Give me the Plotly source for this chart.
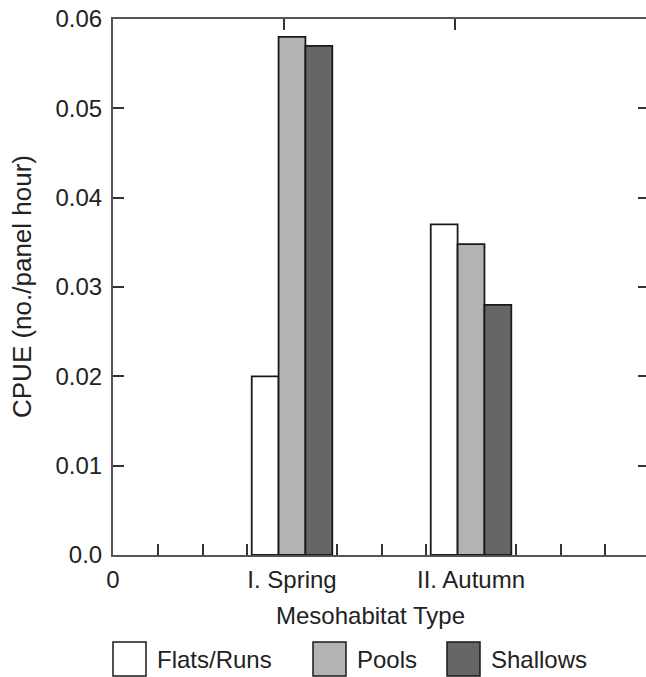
import plotly.graph_objects as go

# ---- data ----
seasons = ["I. Spring", "II. Autumn"]
season_pos = [4, 8]
series_names = ["Flats/Runs", "Pools", "Shallows"]
flats_runs = [0.020, 0.037]
pools = [0.058, 0.0348]
shallows = [0.057, 0.028]
series_values = [flats_runs, pools, shallows]
series_colors = ["#ffffff", "#b3b3b3", "#666666"]
x_tickvals = [0, 4, 8]
x_ticktext = ["0", "I. Spring", "II. Autumn"]
y_tickvals = [0, 0.01, 0.02, 0.03, 0.04, 0.05, 0.06]
y_ticktext = ["0.0", "0.01", "0.02", "0.03", "0.04", "0.05", "0.06"]
top_tickvals = [3.81, 7.64]

W, H = 646, 677
ML, MR, MT, MB = 113, 0, 19, 122
PW = W - ML - MR
PH = H - MT - MB
FONT = "Liberation Sans, Arial, sans-serif"
AXC = "#555555"
TKC = "#333333"

fig = go.Figure()
for name, vals, col in zip(series_names, series_values, series_colors):
    fig.add_trace(go.Bar(
        x=season_pos, y=vals, name=name,
        marker=dict(color=col, line=dict(color="#1a1a1a", width=1.8)),
        showlegend=False,
    ))

# dummy trace to anchor the secondary axes
fig.add_trace(go.Scatter(x=[None], y=[None], xaxis="x2", yaxis="y2",
                         showlegend=False, hoverinfo="skip"))

xr = [0, 11.91]
fig.update_layout(
    width=W, height=H,
    margin=dict(l=ML, r=MR, t=MT, b=MB, pad=0),
    paper_bgcolor="white", plot_bgcolor="white",
    font=dict(family=FONT, size=24, color="#222222"),
    barmode="group", bargap=0.55, bargroupgap=0,
    xaxis=dict(
        range=xr, tickmode="array", tickvals=x_tickvals, ticktext=x_ticktext,
        ticks="inside", ticklen=11, tickwidth=1.5, tickcolor=TKC,
        minor=dict(dtick=1, tick0=0, ticks="inside", ticklen=11, tickwidth=1.5, tickcolor=TKC),
        showline=True, linecolor=AXC, linewidth=2, mirror=True,
        showgrid=False, zeroline=False, layer="below traces",
        tickfont=dict(size=24), ticklabelstandoff=2,
    ),
    yaxis=dict(
        range=[0, 0.06], tickmode="array", tickvals=y_tickvals, ticktext=y_ticktext,
        ticks="inside", ticklen=11, tickwidth=1.5, tickcolor=TKC,
        showline=True, linecolor=AXC, linewidth=2,
        showgrid=False, zeroline=False, layer="below traces",
        tickfont=dict(size=24), ticklabelstandoff=4,
    ),
    xaxis2=dict(
        overlaying="x", side="top", range=xr, tickmode="array", tickvals=top_tickvals,
        ticks="inside", ticklen=11, tickwidth=1.5, tickcolor=TKC,
        showticklabels=False, showline=False, showgrid=False, zeroline=False,
    ),
    yaxis2=dict(
        overlaying="y", side="right", range=[0, 0.06], tickmode="array", tickvals=y_tickvals,
        ticks="inside", ticklen=8, tickwidth=2, tickcolor=TKC,
        showticklabels=False, showline=False, showgrid=False, zeroline=False,
    ),
)

def px_to_paper_x(px):
    return (px - ML) / PW

def px_to_paper_y(py):
    return (H - MB - py) / PH

# axis titles
fig.add_annotation(text="CPUE (no./panel hour)", x=px_to_paper_x(22), y=0.5,
                   xref="paper", yref="paper", textangle=-90, showarrow=False,
                   xanchor="center", yanchor="middle", font=dict(size=26))
fig.add_annotation(text="Mesohabitat Type", x=px_to_paper_x(370), y=px_to_paper_y(615),
                   xref="paper", yref="paper", showarrow=False,
                   xanchor="center", yanchor="middle", font=dict(size=24))

# custom legend with large swatches
legend_box_left = [113, 313, 447]
box_w, box_top, box_bot = 33, 642, 676
for name, col, bx in zip(series_names, series_colors, legend_box_left):
    fig.add_shape(type="rect", xref="paper", yref="paper",
                  x0=px_to_paper_x(bx), x1=px_to_paper_x(bx + box_w),
                  y0=px_to_paper_y(box_bot), y1=px_to_paper_y(box_top),
                  fillcolor=col, line=dict(color="#1a1a1a", width=1.5))
    fig.add_annotation(text=name, x=px_to_paper_x(bx + box_w + 9), y=px_to_paper_y(659),
                       xref="paper", yref="paper", showarrow=False,
                       xanchor="left", yanchor="middle", font=dict(size=24))

fig.write_html("out.html")
